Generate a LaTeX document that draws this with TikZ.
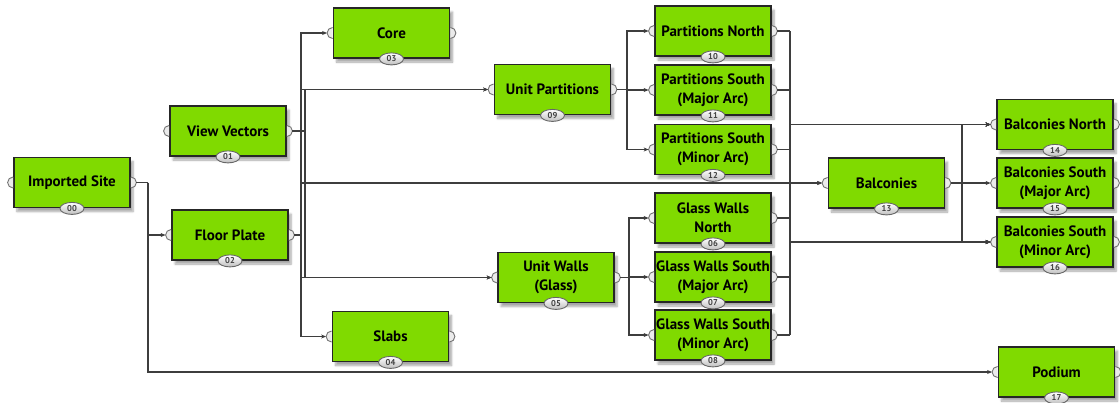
\documentclass[tikz,border=0pt]{standalone}
\usepackage{fontspec}
\setmainfont{PT Sans}
\usetikzlibrary{arrows.meta,shadows.blur,shapes.geometric}
\definecolor{ghgreen}{RGB}{128,218,0}
\definecolor{ghedge}{RGB}{38,38,38}
\definecolor{ghwire}{RGB}{62,62,62}
\tikzset{
  comp/.style={draw=ghedge, line width=1.8pt, fill=ghgreen,
    minimum width=116pt, minimum height=50pt, inner sep=0pt, align=center,
    font=\fontsize{15}{19}\selectfont\bfseries,
    blur shadow={shadow xshift=3pt, shadow yshift=-4pt, shadow opacity=35, shadow blur steps=6}},
  tag/.style={ellipse, draw=black!60, line width=0.9pt, top color=white, bottom color=black!25,
    minimum width=24pt, minimum height=12pt, inner sep=0pt,
    font=\fontsize{8.5}{8.5}\selectfont\bfseries, text=black!75},
  grip/.style={draw=black!55, line width=0.9pt, fill=black!8},
  wire/.style={draw=ghwire, line width=1.2pt},
  feed/.style={wire, -{Stealth[length=5pt,width=4pt]}},
}
\begin{document}
\begin{tikzpicture}[x=1pt,y=-1pt]
\useasboundingbox (0,0) rectangle (1120,402);

% components
\node[comp] (is)    at (72,182.5)   {Imported Site};
\node[comp] (vv)    at (228,131)    {View Vectors};
\node[comp] (fp)    at (230,235)    {Floor Plate};
\node[comp] (core)  at (391.5,33)   {Core};
\node[comp] (slabs) at (390.5,336.5){Slabs};
\node[comp] (up)    at (552.5,89.5) {Unit Partitions};
\node[comp] (uw)    at (556,277.5)  {Unit Walls\\(Glass)};
\node[comp] (pn)    at (713,31)     {Partitions North};
\node[comp] (psma)  at (713,90)     {Partitions South\\(Major Arc)};
\node[comp] (psmi)  at (713,149.5)  {Partitions South\\(Minor Arc)};
\node[comp] (gwn)   at (713,218)    {Glass Walls\\North};
\node[comp] (gwsma) at (713,277)    {Glass Walls South\\(Major Arc)};
\node[comp] (gwsmi) at (713,335)    {Glass Walls South\\(Minor Arc)};
\node[comp] (ba)    at (886.5,183)  {Balconies};
\node[comp] (bn)    at (1055,124.5) {Balconies North};
\node[comp] (bsma)  at (1055,183)   {Balconies South\\(Major Arc)};
\node[comp] (bsmi)  at (1055,242)   {Balconies South\\(Minor Arc)};
\node[comp] (podium) at (1056.5,372){Podium};

% input / output grips
\foreach \n in {is,vv,fp,core,slabs,up,uw,pn,psma,psmi,gwn,gwsma,gwsmi,ba,bn,bsma,bsmi,podium}{
  \draw[grip] ([yshift=5.5pt]\n.west) arc[start angle=90,end angle=270,radius=5.5pt];
  \draw[grip] ([yshift=5.5pt]\n.east) arc[start angle=90,end angle=-90,radius=5.5pt];
}

% bus lines
\coordinate (bIS) at (148,0);
\coordinate (bFP) at (301,0);
\coordinate (bVV) at (305,0);
\coordinate (bUP) at (627,0);
\coordinate (bUW) at (629,0);
\coordinate (bP)  at (790,0);
\coordinate (bBa) at (962,0);

% wires
\draw[wire] ([xshift=5.5pt]is.east) -- (is.east -| bIS);
\draw[feed] (is.east -| bIS) |- ([xshift=-5.5pt]fp.west);
\draw[feed] (is.east -| bIS) |- ([xshift=-5.5pt]podium.west);

\draw[wire] ([xshift=5.5pt]fp.east) -- (fp.east -| bFP);
\foreach \t in {core,up,ba,uw,slabs}
  \draw[feed] (fp.east -| bFP) |- ([xshift=-5.5pt]\t.west);

\draw[wire] ([xshift=5.5pt]vv.east) -- (vv.east -| bVV);
\foreach \t in {up,ba,uw}
  \draw[feed] (vv.east -| bVV) |- ([xshift=-5.5pt]\t.west);

\draw[wire] ([xshift=5.5pt]up.east) -- (up.east -| bUP);
\foreach \t in {pn,psma,psmi}
  \draw[feed] (up.east -| bUP) |- ([xshift=-5.5pt]\t.west);

\draw[wire] ([xshift=5.5pt]uw.east) -- (uw.east -| bUW);
\foreach \t in {gwn,gwsma,gwsmi}
  \draw[feed] (uw.east -| bUW) |- ([xshift=-5.5pt]\t.west);

\foreach \s in {pn,psma,psmi,gwn,gwsma,gwsmi}{
  \draw[wire] ([xshift=5.5pt]\s.east) -- (\s.east -| bP);
  \draw[feed] (\s.east -| bP) |- ([xshift=-5.5pt]bn.west);
  \draw[feed] (\s.east -| bP) |- ([xshift=-5.5pt]bsmi.west);
}

\draw[wire] ([xshift=5.5pt]ba.east) -- (ba.east -| bBa);
\foreach \t in {bn,bsma,bsmi}
  \draw[feed] (ba.east -| bBa) |- ([xshift=-5.5pt]\t.west);

% index tags
\node[tag] at (is.south)    {00};
\node[tag] at (vv.south)    {01};
\node[tag] at (fp.south)    {02};
\node[tag] at (core.south)  {03};
\node[tag] at (slabs.south) {04};
\node[tag] at (uw.south)    {05};
\node[tag] at (gwn.south)   {06};
\node[tag] at (gwsma.south) {07};
\node[tag] at (gwsmi.south) {08};
\node[tag] at (up.south)    {09};
\node[tag] at (pn.south)    {10};
\node[tag] at (psma.south)  {11};
\node[tag] at (psmi.south)  {12};
\node[tag] at (ba.south)    {13};
\node[tag] at (bn.south)    {14};
\node[tag] at (bsma.south)  {15};
\node[tag] at (bsmi.south)  {16};
\node[tag] at (podium.south){17};
\end{tikzpicture}
\end{document}
